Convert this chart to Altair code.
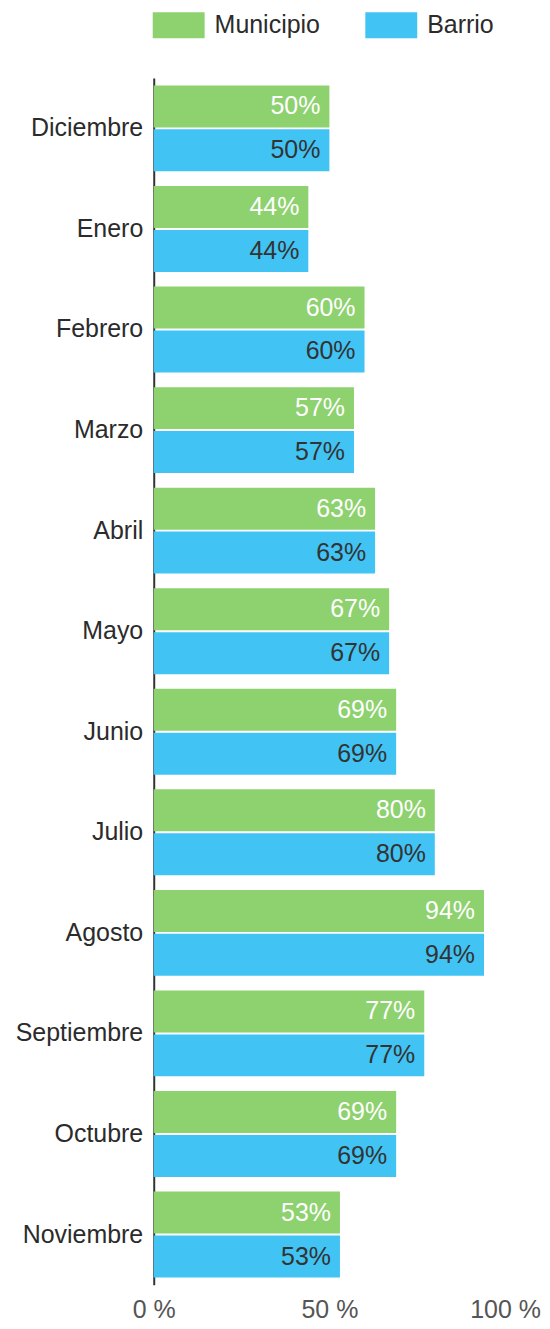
import altair as alt
import pandas as pd

months = ["Diciembre", "Enero", "Febrero", "Marzo", "Abril", "Mayo", "Junio",
          "Julio", "Agosto", "Septiembre", "Octubre", "Noviembre"]
municipio = [50, 44, 60, 57, 63, 67, 69, 80, 94, 77, 69, 53]
barrio = [50, 44, 60, 57, 63, 67, 69, 80, 94, 77, 69, 53]
series = ["Municipio", "Barrio"]
colors = ["#8ed16f", "#41c3f3"]
text_colors = ["#ffffff", "#333333"]
x_ticks = [0, 50, 100]

rows = []
for m, a, b in zip(months, municipio, barrio):
    rows.append({"Mes": m, "Serie": "Municipio", "Valor": a})
    rows.append({"Mes": m, "Serie": "Barrio", "Valor": b})
df = pd.DataFrame(rows)

FONT = "Liberation Sans"
FS = 25

y_enc = alt.Y("Mes:N", sort=months, title=None,
              scale=alt.Scale(paddingInner=0.146, paddingOuter=0.073),
              axis=alt.Axis(domain=True, domainColor="#333333", domainWidth=2,
                            ticks=False, labelFontSize=FS, labelFont=FONT,
                            labelColor="#2b2b2b", labelPadding=11, grid=False))
yoff = alt.YOffset("Serie:N", sort=series, scale=alt.Scale(paddingInner=0.045))
x_enc = alt.X("Valor:Q", title=None, scale=alt.Scale(domain=[0, 100], nice=False),
              axis=alt.Axis(values=x_ticks, labelExpr="datum.value + ' %'",
                            domain=False, ticks=False, grid=False,
                            labelFontSize=FS, labelFont=FONT, labelColor="#555555",
                            labelAlign="center", labelPadding=25,
                            labelBaseline="middle", labelFlush=False))

bars = alt.Chart(df).mark_bar().encode(
    x=x_enc, y=y_enc, yOffset=yoff,
    color=alt.Color("Serie:N", sort=series,
                    scale=alt.Scale(domain=series, range=colors),
                    legend=alt.Legend(title=None, orient="none", direction="horizontal",
                                      legendX=-1, legendY=-79,
                                      symbolType="M-1,-0.5H1V0.5H-1Z", symbolSize=2704,
                                      symbolStrokeWidth=0, symbolOpacity=1,
                                      labelFontSize=FS, labelFont=FONT,
                                      labelColor="#2b2b2b", labelOffset=10,
                                      columnPadding=45)),
)

labels = alt.Chart(df).transform_calculate(Txt="datum.Valor + '%'").mark_text(
    align="right", baseline="middle", dx=-9, fontSize=FS, font=FONT).encode(
    x=alt.X("Valor:Q"), y=alt.Y("Mes:N", sort=months),
    yOffset=alt.YOffset("Serie:N", sort=series),
    text="Txt:N",
    color=alt.Color("Serie:N", sort=series,
                    scale=alt.Scale(domain=series, range=text_colors), legend=None),
)

chart = alt.layer(bars, labels).resolve_scale(color="independent").properties(
    width=352, height=1209,
    autosize=alt.AutoSizeParams(type="none"),
    padding={"left": 146, "top": 69, "right": 37, "bottom": 36},
).configure_view(stroke=None)

chart.save("out.html", embed_options={"renderer": "svg", "actions": False})
